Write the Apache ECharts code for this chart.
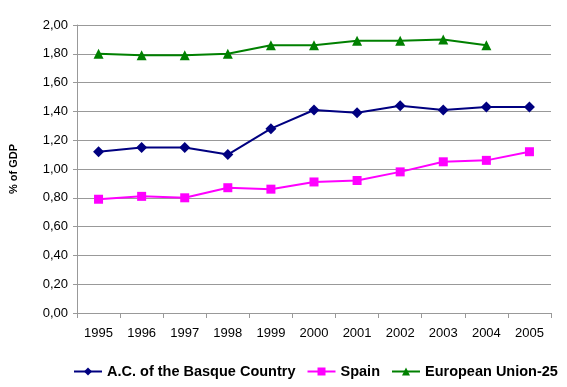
<!DOCTYPE html>
<html><head><meta charset="utf-8">
<script src="https://cdn.jsdelivr.net/npm/echarts@6/dist/echarts.min.js"></script>
<style>html,body{margin:0;padding:0;background:#fff}#c{width:567px;height:387px}</style>
</head><body><div id="c"></div>
<script>
var years = ['1995','1996','1997','1998','1999','2000','2001','2002','2003','2004','2005'];
var basque = [1.12,1.15,1.15,1.10,1.28,1.41,1.39,1.44,1.41,1.43,1.43];
var spain = [0.79,0.81,0.80,0.87,0.86,0.91,0.92,0.98,1.05,1.06,1.12];
var eu25 = [1.80,1.79,1.79,1.80,1.86,1.86,1.89,1.89,1.90,1.86,null];
var chart = echarts.init(document.getElementById('c'));
var font = 'Liberation Sans, Arial, sans-serif';
chart.setOption({
  animation:false,
  grid:{left:74,right:16,top:25,bottom:74},
  legend:{bottom:8,left:73,width:520,itemGap:11,itemWidth:28,itemHeight:10,padding:0,
    textStyle:{fontFamily:font,fontWeight:'bold',fontSize:14.5,color:'#000'},
    data:['A.C. of the Basque Country','Spain','European Union-25']},
  xAxis:{type:'category',data:years,boundaryGap:true,
    axisLine:{lineStyle:{color:'#999',width:1}},
    axisTick:{show:true,length:5,lineStyle:{color:'#999'}},
    axisLabel:{fontFamily:font,fontSize:13,color:'#000',margin:14}},
  yAxis:{type:'value',min:0,max:2,interval:0.2,
    name:'% of GDP',nameLocation:'middle',nameGap:58,nameRotate:90,
    nameTextStyle:{fontFamily:font,fontSize:11,fontWeight:'bold',color:'#000'},
    axisLine:{show:true,lineStyle:{color:'#999'}},
    axisTick:{show:true,length:4,lineStyle:{color:'#999'}},
    splitLine:{lineStyle:{color:'#999',width:1}},
    axisLabel:{fontFamily:font,fontSize:13,color:'#000',margin:9,
      formatter:function(v){return v.toFixed(2).replace('.',',');}}},
  series:[
    {name:'A.C. of the Basque Country',type:'line',data:basque,symbol:'diamond',symbolSize:11,
      itemStyle:{color:'#000080'},lineStyle:{color:'#000080',width:2}},
    {name:'Spain',type:'line',data:spain,symbol:'rect',symbolSize:9,
      itemStyle:{color:'#ff00ff'},lineStyle:{color:'#ff00ff',width:2}},
    {name:'European Union-25',type:'line',data:eu25,symbol:'triangle',symbolSize:10,
      itemStyle:{color:'#008000'},lineStyle:{color:'#008000',width:2}}
  ]
});
</script></body></html>
